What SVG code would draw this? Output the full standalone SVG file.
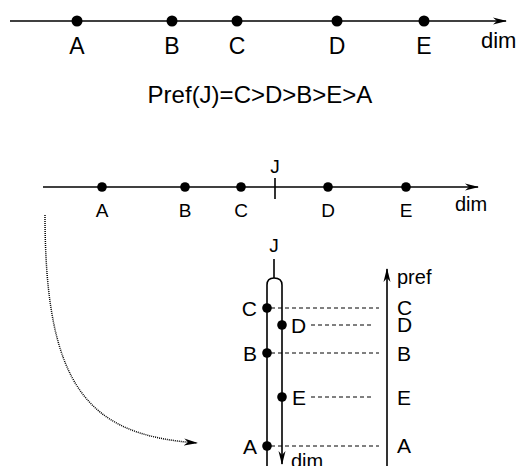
<svg xmlns="http://www.w3.org/2000/svg" width="522" height="466" viewBox="0 0 522 466">
<defs>
<marker id="arr" markerWidth="14" markerHeight="8" refX="13" refY="4" orient="auto" markerUnits="userSpaceOnUse">
<path d="M0,0.5 L14,4 L0,7.5 L4,4 Z" fill="#000"/>
</marker>
</defs>
<style>
.ax{stroke:#000;stroke-width:1.6;fill:none}
.dash{stroke:#000;stroke-width:1;stroke-dasharray:4,3;fill:none}
.dot{stroke:#000;stroke-width:1.5;stroke-dasharray:1,1;fill:none}
text{font-family:"Liberation Sans",Arial,sans-serif;fill:#000}
.t1{font-size:23px;text-anchor:middle}
.t2{font-size:19px;text-anchor:middle}
.t3{font-size:21px}
</style>
<g id="connectors">
<line class="ax" x1="10" y1="21" x2="506" y2="21" marker-end="url(#arr)"/>
<line class="ax" x1="43" y1="187" x2="478" y2="187" marker-end="url(#arr)"/>
<line class="ax" x1="275" y1="178" x2="275" y2="199"/>
<line class="ax" x1="274" y1="259" x2="274" y2="278"/>
<path class="ax" d="M267,466 V285 Q267,278 274,278 Q282,278 282,285 V464" marker-end="url(#arr)"/>
<line class="ax" x1="387" y1="466" x2="387" y2="269" marker-end="url(#arr)"/>
<line class="dash" x1="271" y1="308" x2="379" y2="308"/>
<line class="dash" x1="311" y1="325" x2="373" y2="325"/>
<line class="dash" x1="271" y1="353" x2="379" y2="353"/>
<line class="dash" x1="311" y1="397" x2="373" y2="397"/>
<line class="dash" x1="271" y1="446" x2="379" y2="446"/>
<path class="dot" d="M45,215 C45,390 90,435 197,443" marker-end="url(#arr)"/>
</g>
<g id="line1">
<circle cx="77" cy="21" r="5.5"/><circle cx="172" cy="21" r="5.5"/><circle cx="237" cy="21" r="5.5"/><circle cx="337" cy="21" r="5.5"/><circle cx="424" cy="21" r="5.5"/>
<text class="t1" x="77" y="54">A</text><text class="t1" x="172" y="54">B</text><text class="t1" x="237" y="54">C</text><text class="t1" x="337" y="54">D</text><text class="t1" x="424" y="54">E</text>
<text x="481" y="48" style="font-size:22px">dim</text>
</g>
<g id="pref-label">
<text x="260" y="103" style="font-size:24px;text-anchor:middle">Pref(J)=C&gt;D&gt;B&gt;E&gt;A</text>
</g>
<g id="line2">
<circle cx="102" cy="187" r="4.8"/><circle cx="185" cy="187" r="4.8"/><circle cx="241" cy="187" r="4.8"/><circle cx="328" cy="187" r="4.8"/><circle cx="406" cy="187" r="4.8"/>
<text class="t2" x="102" y="217">A</text><text class="t2" x="185" y="217">B</text><text class="t2" x="241" y="217">C</text><text class="t2" x="328" y="217">D</text><text class="t2" x="406" y="217">E</text>
<text class="t2" x="275" y="173">J</text>
<text x="455" y="211" style="font-size:20px">dim</text>
</g>
<g id="folded">
<text class="t2" x="274" y="252">J</text>
<circle cx="267" cy="308" r="4.8"/><circle cx="282" cy="325" r="4.8"/><circle cx="267" cy="353" r="4.8"/><circle cx="282" cy="397" r="4.8"/><circle cx="267" cy="446" r="4.8"/>
<text class="t3" x="257" y="316" text-anchor="end">C</text>
<text class="t3" x="291" y="333">D</text>
<text class="t3" x="257" y="361" text-anchor="end">B</text>
<text class="t3" x="292" y="405">E</text>
<text class="t3" x="257" y="454" text-anchor="end">A</text>
<text x="291" y="468" style="font-size:20px">dim</text>
</g>
<g id="pref-axis">
<text x="397" y="284" style="font-size:20px">pref</text>
<text class="t3" x="397" y="315">C</text>
<text class="t3" x="397" y="332">D</text>
<text class="t3" x="397" y="361">B</text>
<text class="t3" x="397" y="405">E</text>
<text class="t3" x="397" y="453">A</text>
</g>
</svg>
